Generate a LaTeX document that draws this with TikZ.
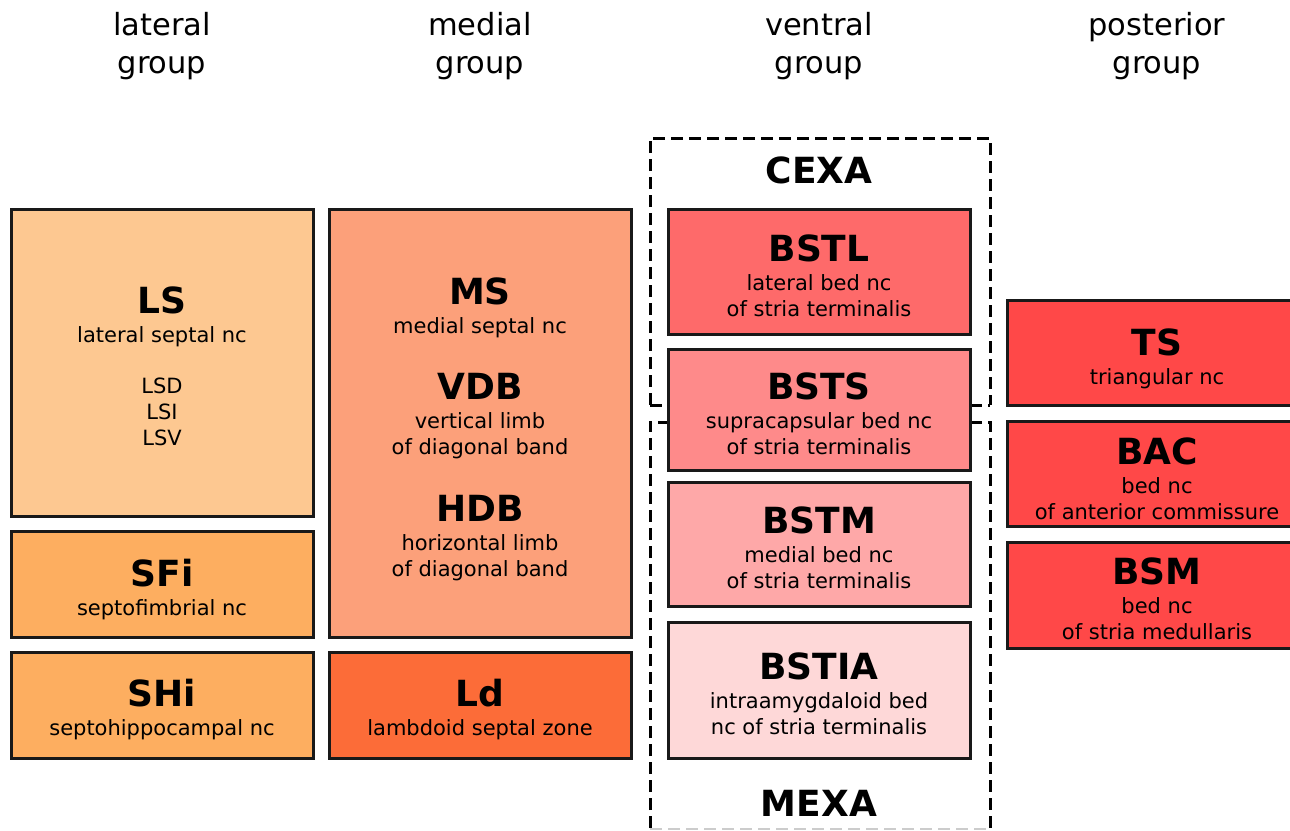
\documentclass[tikz,border=0pt]{standalone}
\usepackage{fontspec}
\setmainfont{DejaVu Sans}
\begin{document}
\begin{tikzpicture}[x=1pt,y=-1pt,
  box/.style={draw=black!90,line width=3pt,rectangle},
  grp/.style={draw=black,line width=3pt,dash pattern=on 12pt off 6pt},
  ttl/.style={font=\fontsize{36}{42}\selectfont\bfseries,anchor=base},
  sub/.style={font=\fontsize{21}{25}\selectfont,anchor=base},
  head/.style={font=\fontsize{30.5}{36}\selectfont,anchor=base}]
\useasboundingbox (0,0) rectangle (1290,830);
\clip (0,0) rectangle (1290,830);
\definecolor{cLS}{RGB}{253,200,145}
\definecolor{cSF}{RGB}{253,174,96}
\definecolor{cMS}{RGB}{252,160,122}
\definecolor{cLd}{RGB}{252,108,56}
\definecolor{cBL}{RGB}{254,106,106}
\definecolor{cBS}{RGB}{254,138,138}
\definecolor{cBM}{RGB}{254,168,168}
\definecolor{cBI}{RGB}{254,216,216}
\definecolor{cP}{RGB}{255,72,72}
% headings
\node[head] (h1a) at (162,35) {lateral};
\node[head] (h1b) at (162,73) {group};
\node[head] (h2a) at (480,35) {medial};
\node[head] (h2b) at (480,73) {group};
\node[head] (h3a) at (819,35) {ventral};
\node[head] (h3b) at (819,73) {group};
\node[head] (h4a) at (1157,35) {posterior};
\node[head] (h4b) at (1157,73) {group};
% dashed groups
\draw[grp] (650,405) -- (650,138) -- (990,138) -- (990,405);
\draw[grp] (650,405) -- (668,405);
\draw[grp] (970,405) -- (990,405);
\draw[grp] (650,828) -- (650,422) -- (668,422);
\draw[grp] (970,422) -- (990,422) -- (990,828);
\draw[grp,draw=black!20,line width=2pt] (650,829) -- (990,829);
% lateral
\node[box,fill=cLS,minimum width=302,minimum height=307] (LS) at (162,362.5) {};
\node[box,fill=cSF,minimum width=302,minimum height=106] (SFi) at (162,584) {};
\node[box,fill=cSF,minimum width=302,minimum height=106] (SHi) at (162,705) {};
% medial
\node[box,fill=cMS,minimum width=302,minimum height=428] (MS) at (480,423) {};
\node[box,fill=cLd,minimum width=302,minimum height=106] (Ld) at (480,705) {};
% ventral
\node[box,fill=cBL,minimum width=302,minimum height=125] (BSTL) at (819,271.5) {};
\node[box,fill=cBS,minimum width=302,minimum height=121] (BSTS) at (819,409.5) {};
\node[box,fill=cBM,minimum width=302,minimum height=124] (BSTM) at (819,544) {};
\node[box,fill=cBI,minimum width=302,minimum height=136] (BSTIA) at (819,690) {};
% posterior
\node[box,fill=cP,minimum width=300,minimum height=105] (TS) at (1157,352.5) {};
\node[box,fill=cP,minimum width=300,minimum height=105] (BAC) at (1157,473.5) {};
\node[box,fill=cP,minimum width=300,minimum height=106] (BSM) at (1157,595) {};
% texts lateral
\node[ttl] (tLS) at (162,313) {LS};
\node[sub] (sLS) at (162,342) {lateral septal nc};
\node[sub] (sLSD) at (162,393) {LSD};
\node[sub] (sLSI) at (162,419) {LSI};
\node[sub] (sLSV) at (162,445) {LSV};
\node[ttl] (tSF) at (162,586) {SFi};
\node[sub] (sSF) at (162,615) {septofimbrial nc};
\node[ttl] (tSH) at (162,706) {SHi};
\node[sub] (sSH) at (162,735) {septohippocampal nc};
% texts medial
\node[ttl] (tMS) at (480,304) {MS};
\node[sub] (sMS) at (480,333) {medial septal nc};
\node[ttl] (tVDB) at (480,399) {VDB};
\node[sub] (sVDB1) at (480,428) {vertical limb};
\node[sub] (sVDB2) at (480,454) {of diagonal band};
\node[ttl] (tHDB) at (480,521) {HDB};
\node[sub] (sHDB1) at (480,550) {horizontal limb};
\node[sub] (sHDB2) at (480,576) {of diagonal band};
\node[ttl] (tLd) at (480,706) {Ld};
\node[sub] (sLd) at (480,735) {lambdoid septal zone};
% texts ventral
\node[ttl] (tCEXA) at (819,183) {CEXA};
\node[ttl] (tBSTL) at (819,261) {BSTL};
\node[sub] (sBSTL1) at (819,290) {lateral bed nc};
\node[sub] (sBSTL2) at (819,316) {of stria terminalis};
\node[ttl] (tBSTS) at (819,399) {BSTS};
\node[sub] (sBSTS1) at (819,428) {supracapsular bed nc};
\node[sub] (sBSTS2) at (819,454) {of stria terminalis};
\node[ttl] (tBSTM) at (819,533) {BSTM};
\node[sub] (sBSTM1) at (819,562) {medial bed nc};
\node[sub] (sBSTM2) at (819,588) {of stria terminalis};
\node[ttl] (tBSTIA) at (819,679) {BSTIA};
\node[sub] (sBSTIA1) at (819,708) {intraamygdaloid bed};
\node[sub] (sBSTIA2) at (819,734) {nc of stria terminalis};
\node[ttl] (tMEXA) at (819,816) {MEXA};
% texts posterior
\node[ttl] (tTS) at (1157,355) {TS};
\node[sub] (sTS) at (1157,384) {triangular nc};
\node[ttl] (tBAC) at (1157,464) {BAC};
\node[sub] (sBAC1) at (1157,493) {bed nc};
\node[sub] (sBAC2) at (1157,519) {of anterior commissure};
\node[ttl] (tBSM) at (1157,584) {BSM};
\node[sub] (sBSM1) at (1157,613) {bed nc};
\node[sub] (sBSM2) at (1157,639) {of stria medullaris};
\end{tikzpicture}
\end{document}
